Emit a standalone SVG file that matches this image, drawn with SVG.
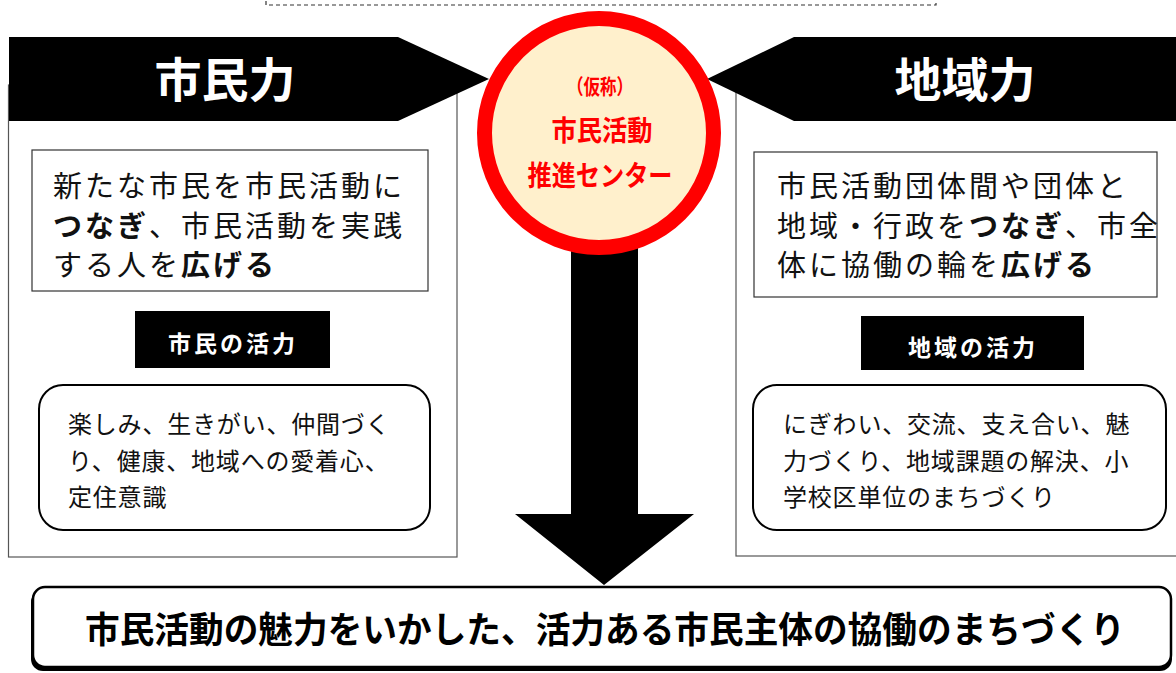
<svg xmlns="http://www.w3.org/2000/svg" width="1176" height="673" viewBox="0 0 1176 673">
<style>
.jp{font-family:"Noto Sans CJK JP","Noto Sans",sans-serif}
.b{font-weight:bold}
.body{font-size:29px;letter-spacing:3px;fill:#111}
.small{font-size:24px;letter-spacing:0.8px;fill:#111}
.outer{fill:#fff;stroke:#555;stroke-width:1.2}
.tbox{fill:#fff;stroke:#333;stroke-width:1.2}
.rbox{fill:#fff;stroke:#000;stroke-width:2}
.lab{fill:#000}
.labt{font-size:23px;letter-spacing:3px;fill:#fff;font-weight:bold}
.head{font-size:47px;fill:#fff;font-weight:bold}
.red{fill:#ff0000;font-weight:bold}
</style>
<rect width="1176" height="673" fill="#fff"/>
<g id="top-dashed-box">
<rect x="266" y="-20" width="670" height="25" fill="none" stroke="#333" stroke-width="1.2" stroke-dasharray="4 3"/>
</g>
<g id="left-panel">
<rect class="outer" x="8.5" y="85" width="448.5" height="472"/>
<polygon points="9,37 398,37 489,79 398,121 9,121" fill="#000"/>
<text class="jp head" x="225" y="97" text-anchor="middle">市民力</text>
<rect class="tbox" x="32" y="150" width="396" height="141"/>
<text class="jp body" x="53" y="197">新たな市民を市民活動に</text>
<text class="jp body" x="53" y="237"><tspan class="b">つなぎ</tspan>、市民活動を実践</text>
<text class="jp body" x="53" y="276">する人を<tspan class="b">広げる</tspan></text>
<rect class="lab" x="135" y="311" width="195" height="57"/>
<text class="jp labt" x="233" y="352" text-anchor="middle">市民の活力</text>
<rect class="rbox" x="39" y="385" width="391" height="145" rx="24"/>
<text class="jp small" x="68" y="433">楽しみ、生きがい、仲間づく</text>
<text class="jp small" x="68" y="470">り、健康、地域への愛着心、</text>
<text class="jp small" x="68" y="506">定住意識</text>
</g>
<g id="right-panel">
<rect class="outer" x="736" y="85" width="450" height="471"/>
<polygon points="1180,37 794,37 707,79 794,121 1180,121" fill="#000"/>
<text class="jp head" x="965" y="97" text-anchor="middle">地域力</text>
<rect class="tbox" x="754" y="152" width="403" height="145"/>
<text class="jp body" x="777" y="197">市民活動団体間や団体と</text>
<text class="jp body" x="777" y="237">地域・行政を<tspan class="b">つなぎ</tspan>、市全</text>
<text class="jp body" x="777" y="276">体に協働の輪を<tspan class="b">広げる</tspan></text>
<rect class="lab" x="861" y="316" width="223" height="54"/>
<text class="jp labt" x="973" y="356" text-anchor="middle">地域の活力</text>
<rect class="rbox" x="753" y="385" width="413" height="145" rx="24"/>
<text class="jp small" x="783" y="433">にぎわい、交流、支え合い、魅</text>
<text class="jp small" x="783" y="470">力づくり、地域課題の解決、小</text>
<text class="jp small" x="783" y="506">学校区単位のまちづくり</text>
</g>
<g id="connectors">
<polygon points="571,240 638,240 638,514 694,514 604,585 515,514 571,514" fill="#000"/>
</g>
<g id="center-circle">
<circle cx="599" cy="133" r="114.5" fill="#fff0cc" stroke="#ff0000" stroke-width="15"/>
<text class="jp red" x="600" y="94" font-size="21" text-anchor="middle" textLength="66" lengthAdjust="spacingAndGlyphs">（仮称）</text>
<text class="jp red" x="602" y="141" font-size="28" text-anchor="middle" textLength="101" lengthAdjust="spacingAndGlyphs">市民活動</text>
<text class="jp red" x="600" y="186" font-size="28" text-anchor="middle" textLength="145" lengthAdjust="spacingAndGlyphs">推進センター</text>
</g>
<g id="bottom-box">
<rect x="31" y="590" width="1141" height="81" rx="12" fill="#000"/>
<rect x="33" y="587" width="1138" height="80" rx="12" fill="#fff" stroke="#000" stroke-width="2.5"/>
<text class="jp b" x="605" y="643" font-size="36" text-anchor="middle" textLength="1040" lengthAdjust="spacingAndGlyphs" fill="#000">市民活動の魅力をいかした、活力ある市民主体の協働のまちづくり</text>
</g>
</svg>
